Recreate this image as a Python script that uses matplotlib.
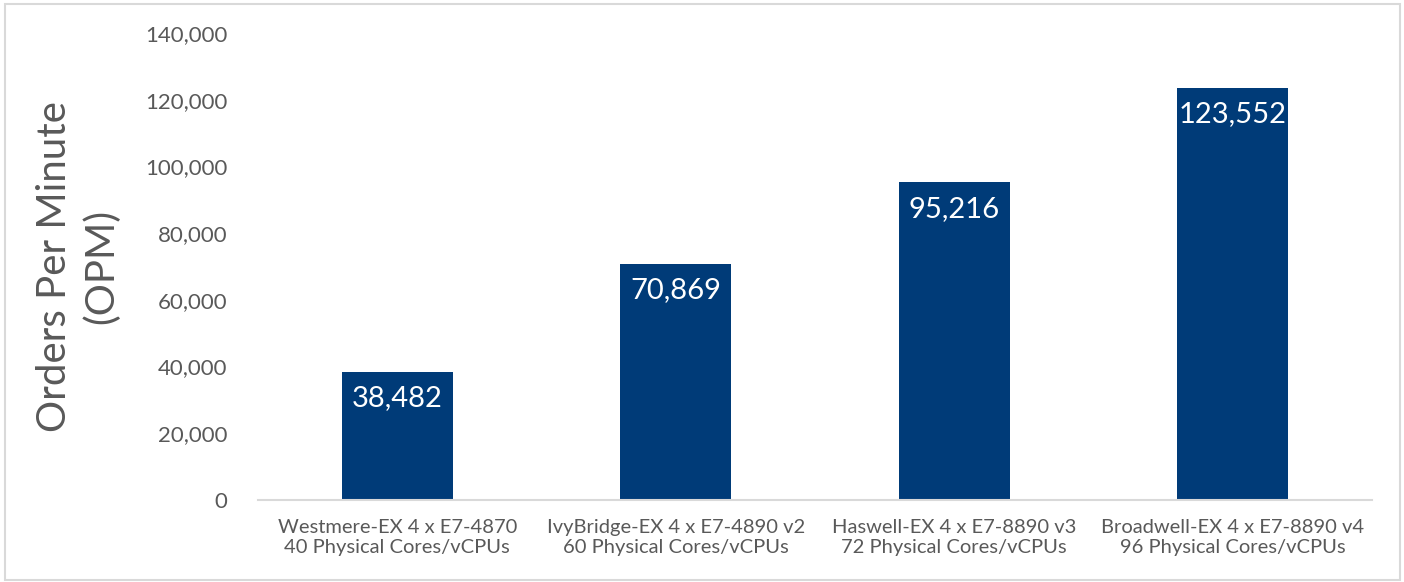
import matplotlib.pyplot as plt
from matplotlib.patches import Rectangle
import numpy as np

plt.rcParams['font.family'] = ['Lato', 'DejaVu Sans']

categories = ['Westmere-EX 4 x E7-4870\n40 Physical Cores/vCPUs',
              'IvyBridge-EX 4 x E7-4890 v2\n60 Physical Cores/vCPUs',
              'Haswell-EX 4 x E7-8890 v3\n72 Physical Cores/vCPUs',
              'Broadwell-EX 4 x E7-8890 v4\n96 Physical Cores/vCPUs']
opm = [38482, 70869, 95216, 123552]

bar_color = '#003B78'
text_gray = '#595959'

fig = plt.figure(figsize=(14.04, 5.82), dpi=100)
ax = fig.add_axes([0.1838, 0.1409, 0.7934, 0.8024])

x = np.arange(len(opm))
bars = ax.bar(x, opm, width=0.4, color=bar_color)

for b, v in zip(bars, opm):
    ax.text(b.get_x() + b.get_width() / 2, v - 4000, f'{v:,}',
            ha='center', va='top', color='white', fontsize=21)

ax.set_xlim(-0.5, len(opm) - 0.5)
ax.set_ylim(0, 140000)
ax.set_yticks(np.arange(0, 140001, 20000))
ax.set_yticklabels([f'{t:,}' for t in range(0, 140001, 20000)])
ax.set_xticks(x)
ax.set_xticklabels(categories, fontsize=14.5, color=text_gray, linespacing=1.15)
ax.tick_params(axis='y', length=0, labelsize=16, labelcolor=text_gray, pad=22)
ax.tick_params(axis='x', length=0, pad=14)

for s in ['top', 'right', 'left']:
    ax.spines[s].set_visible(False)
ax.spines['bottom'].set_color('#D9D9D9')
ax.spines['bottom'].set_linewidth(1.5)

ax.set_ylabel('Orders Per Minute\n(OPM)', fontsize=29, color=text_gray,
              labelpad=18, linespacing=1.3)

fig.patches.append(Rectangle((5 / 1404, 2 / 582), 1395 / 1404, 576 / 582,
                             transform=fig.transFigure, fill=False,
                             edgecolor='#D9D9D9', linewidth=1.5))

plt.savefig('out.png', dpi=100)
plt.close()
